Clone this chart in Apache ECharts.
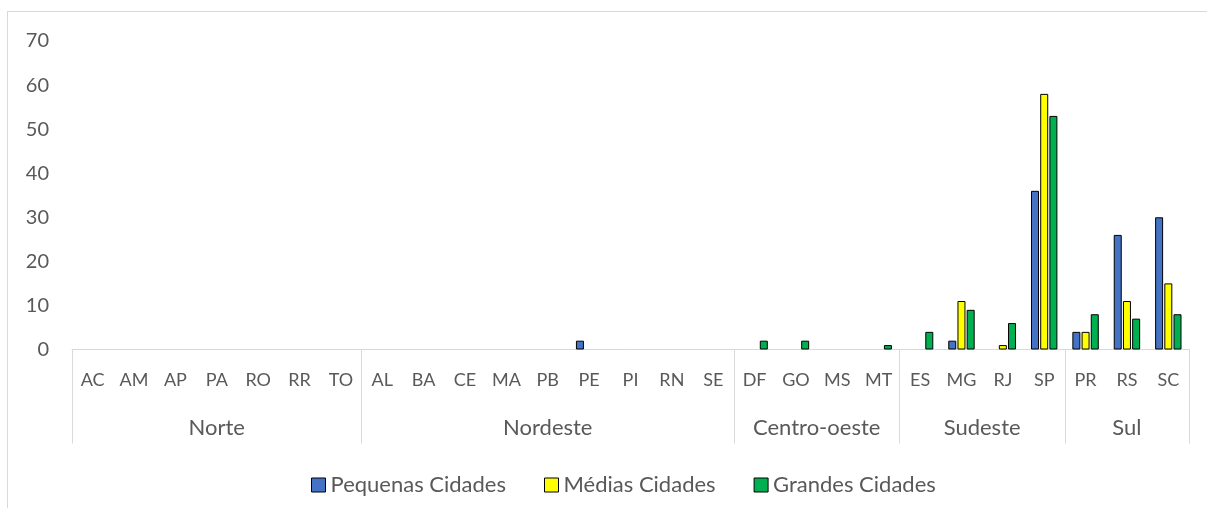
<!DOCTYPE html>
<html>
<head>
<meta charset="UTF-8">
<script src="https://cdn.jsdelivr.net/npm/echarts@6/dist/echarts.min.js"></script>
<style>
  html, body { margin: 0; padding: 0; background: #fff; overflow: hidden; }
  #frame { position: absolute; left: 7px; top: 11px; width: 1220px; height: 520px; border: 1px solid #d9d9d9; box-sizing: border-box; }
  #chart { position: absolute; left: 0; top: 0; width: 1207px; height: 508px; }
</style>
</head>
<body>
<div id="frame"></div>
<div id="chart"></div>
<script>
// Dados (null = sem barra)
const regions = ['Norte', 'Nordeste', 'Centro-oeste', 'Sudeste', 'Sul'];
const statesByRegion = [
  ['AC', 'AM', 'AP', 'PA', 'RO', 'RR', 'TO'],
  ['AL', 'BA', 'CE', 'MA', 'PB', 'PE', 'PI', 'RN', 'SE'],
  ['DF', 'GO', 'MS', 'MT'],
  ['ES', 'MG', 'RJ', 'SP'],
  ['PR', 'RS', 'SC']
];
const pequenas = [null, null, null, null, null, null, null,  null, null, null, null, null, 2, null, null, null,  null, null, null, null,  null, 2, null, 36,  4, 26, 30];
const medias   = [null, null, null, null, null, null, null,  null, null, null, null, null, null, null, null, null,  null, null, null, null,  null, 11, 1, 58,  4, 11, 15];
const grandes  = [null, null, null, null, null, null, null,  null, null, null, null, null, null, null, null, null,  2, 2, null, 1,  4, 9, 6, 53,  8, 7, 8];
const yTicks = { min: 0, max: 70, interval: 10 };

const states = statesByRegion.flat();

// eixo de regiões: pontos em meia-categoria (0..2N)
const halfCount = states.length * 2;
const regionAxis = new Array(halfCount + 1).fill('');
const boundaries = new Set([0]);
let start = 0;
statesByRegion.forEach((list, i) => {
  regionAxis[start * 2 + list.length] = regions[i];
  start += list.length;
  boundaries.add(start * 2);
});

const textColor = '#595959';
const lineColor = '#d9d9d9';
const font = 'Lato, "Open Sans", sans-serif';

const chart = echarts.init(document.getElementById('chart'));

function barSeries(name, data, color) {
  return {
    name: name,
    type: 'bar',
    data: data,
    barWidth: 8,
    barGap: '15%',
    itemStyle: { color: color, borderColor: '#000', borderWidth: 1 },
    emphasis: { disabled: true }
  };
}

chart.setOption({
  animation: false,
  textStyle: { fontFamily: font },
  grid: { left: 72, right: 18, top: 41, bottom: 158.5, containLabel: false },
  xAxis: [
    {
      type: 'category',
      data: states,
      axisLine: { lineStyle: { color: lineColor, width: 1 } },
      axisTick: { show: false },
      axisLabel: { color: textColor, fontSize: 18, margin: 22, interval: 0, fontFamily: font }
    },
    {
      type: 'category',
      data: regionAxis,
      boundaryGap: false,
      position: 'bottom',
      axisLine: { show: false },
      axisTick: {
        show: true,
        length: 94,
        interval: (idx) => boundaries.has(idx),
        lineStyle: { color: lineColor, width: 1 }
      },
      axisLabel: {
        color: textColor, fontSize: 22, margin: 67, interval: 0, fontFamily: font,
        showMinLabel: true, showMaxLabel: true
      }
    }
  ],
  yAxis: {
    type: 'value',
    min: yTicks.min,
    max: yTicks.max,
    interval: yTicks.interval,
    splitLine: { show: false },
    axisLine: { show: false },
    axisTick: { show: false },
    axisLabel: { color: textColor, fontSize: 20, margin: 23, fontFamily: font }
  },
  legend: {
    left: 306,
    top: 469,
    itemWidth: 14,
    itemHeight: 14,
    itemGap: 38,
    icon: 'rect',
    textStyle: { color: textColor, fontSize: 22, fontFamily: font },
    itemStyle: { borderColor: '#000', borderWidth: 1 }
  },
  series: [
    barSeries('Pequenas Cidades', pequenas, '#4472C4'),
    barSeries('Médias Cidades', medias, '#FFFF00'),
    barSeries('Grandes Cidades', grandes, '#00B050')
  ]
});
</script>
</body>
</html>
